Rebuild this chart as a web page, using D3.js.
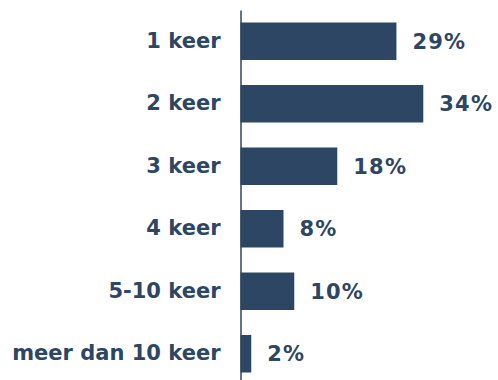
<!DOCTYPE html>
<html>
<head>
<meta charset="utf-8">
<script src="https://cdn.jsdelivr.net/npm/d3@7"></script>
<style>
  html, body { margin: 0; padding: 0; background: #fff; }
  svg { display: block; }
  text { font-family: "DejaVu Sans", Verdana, sans-serif; font-weight: bold; fill: #2d4663; }
</style>
</head>
<body>
<svg id="chart" width="498" height="380"></svg>
<script>
// Number of times, share of respondents (%)
const categories = ["1 keer", "2 keer", "3 keer", "4 keer", "5-10 keer", "meer dan 10 keer"];
const values = [29, 34, 18, 8, 10, 2];

const barColor = "#2d4663";
const svg = d3.select("#chart");

const x0 = 240.5;
const x = d3.scaleLinear().domain([0, 34]).range([x0, 423.3]);
const y = d3.scaleBand().domain(categories).range([10, 385]).paddingInner(0.4).paddingOuter(0.2);

const rows = categories.map((c, i) => ({ cat: c, val: values[i] }));

// bars
svg.selectAll("rect.bar").data(rows).join("rect")
  .attr("class", "bar")
  .attr("x", x(0))
  .attr("y", d => y(d.cat))
  .attr("width", d => x(d.val) - x(0))
  .attr("height", y.bandwidth())
  .attr("fill", barColor);

// vertical axis line with category labels
const axis = d3.axisLeft(y).tickSize(0).tickPadding(20);
const g = svg.append("g").attr("transform", `translate(${x0},0)`).call(axis);
g.select(".domain").attr("stroke", barColor).attr("stroke-width", 1.5);
g.selectAll(".tick text")
  .attr("font-size", 21)
  .attr("font-family", "'DejaVu Sans', Verdana, sans-serif")
  .attr("font-weight", "bold")
  .attr("fill", barColor);

// value labels
svg.selectAll("text.val").data(rows).join("text")
  .attr("class", "val")
  .attr("x", d => x(d.val) + 16)
  .attr("y", d => y(d.cat) + y.bandwidth() / 2)
  .attr("dy", "0.36em")
  .attr("font-size", 21)
  .attr("letter-spacing", "1.2px")
  .text(d => d.val + "%");
</script>
</body>
</html>
